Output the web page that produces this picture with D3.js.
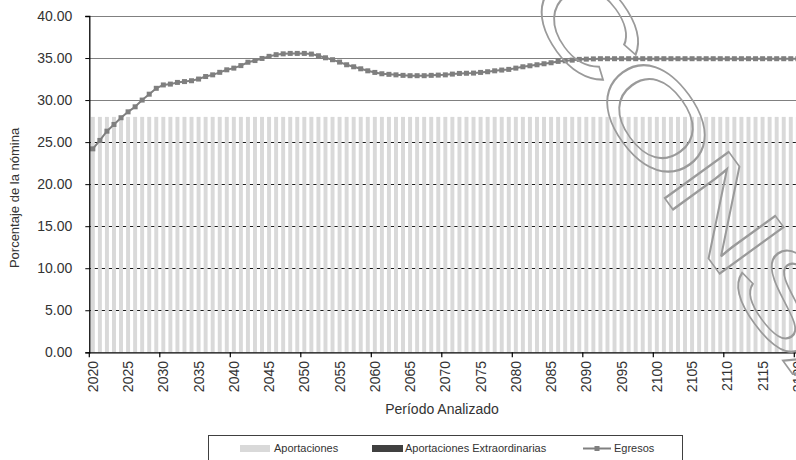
<!DOCTYPE html>
<html>
<head>
<meta charset="utf-8">
<script src="https://cdn.jsdelivr.net/npm/d3@7"></script>
<style>
  html, body { margin: 0; padding: 0; background: #fff; }
  svg { display: block; font-family: "Liberation Sans", Arial, sans-serif; }
</style>
</head>
<body>
<svg id="chart" width="796" height="460"></svg>
<script>
// ---- data ----
const years = [
  2020,2021,2022,2023,2024,2025,2026,2027,2028,2029,
  2030,2031,2032,2033,2034,2035,2036,2037,2038,2039,
  2040,2041,2042,2043,2044,2045,2046,2047,2048,2049,
  2050,2051,2052,2053,2054,2055,2056,2057,2058,2059,
  2060,2061,2062,2063,2064,2065,2066,2067,2068,2069,
  2070,2071,2072,2073,2074,2075,2076,2077,2078,2079,
  2080,2081,2082,2083,2084,2085,2086,2087,2088,2089,
  2090,2091,2092,2093,2094,2095,2096,2097,2098,2099,
  2100,2101,2102,2103,2104,2105,2106,2107,2108,2109,
  2110,2111,2112,2113,2114,2115,2116,2117,2118,2119,
  2120
];
const aportaciones = [
  28,28,28,28,28,28,28,28,28,28,
  28,28,28,28,28,28,28,28,28,28,
  28,28,28,28,28,28,28,28,28,28,
  28,28,28,28,28,28,28,28,28,28,
  28,28,28,28,28,28,28,28,28,28,
  28,28,28,28,28,28,28,28,28,28,
  28,28,28,28,28,28,28,28,28,28,
  28,28,28,28,28,28,28,28,28,28,
  28,28,28,28,28,28,28,28,28,28,
  28,28,28,28,28,28,28,28,28,28,
  28
];
const egresos = [
  24.2,25.2,26.3,27.1,27.9,28.6,29.2,30.0,30.7,31.4,
  31.8,31.9,32.1,32.2,32.3,32.5,32.8,33.0,33.3,33.6,
  33.8,34.1,34.5,34.7,34.95,35.2,35.4,35.5,35.55,35.55,
  35.55,35.47,35.27,35.03,34.8,34.52,34.2,33.96,33.72,33.48,
  33.29,33.13,33.06,33.0,32.94,32.9,32.9,32.9,32.94,32.97,
  33.0,33.09,33.17,33.19,33.21,33.29,33.37,33.48,33.57,33.65,
  33.8,33.96,34.08,34.2,34.32,34.44,34.6,34.67,34.75,34.84,
  34.87,34.9,34.92,34.92,34.92,34.92,34.92,34.92,34.92,34.92,
  34.92,34.92,34.92,34.92,34.92,34.92,34.92,34.92,34.92,34.92,
  34.92,34.92,34.92,34.92,34.92,34.92,34.92,34.92,34.92,34.92,
  34.92
];
const yTicks = [0, 5, 10, 15, 20, 25, 30, 35, 40];
const xLabelYears = [2020,2025,2030,2035,2040,2045,2050,2055,2060,2065,2070,2075,2080,2085,2090,2095,2100,2105,2110,2115,2120];
const xTickYears = [2020,2030,2040,2050,2060,2070,2080,2090,2100,2110,2120];
const legendLabels = ["Aportaciones", "Aportaciones Extraordinarias", "Egresos"];
const yTitle = "Porcentaje de la nómina";
const xTitle = "Período Analizado";
const watermark = "CONSAR";

// ---- layout ----
const mLeft = 89.3, mTop = 16, mBottom = 352.3;
const step = 7.05;
const mRight = mLeft + step * years.length;

const svg = d3.select("#chart");
const x = d3.scaleBand().domain(years).range([mLeft, mRight]).padding(0);
const y = d3.scaleLinear().domain([0, 40]).range([mBottom, mTop]);
const bw = x.bandwidth();

// gridlines
svg.append("g").selectAll("line").data(yTicks.filter(d => d > 0)).join("line")
  .attr("x1", mLeft).attr("x2", mRight)
  .attr("y1", d => Math.round(y(d)) + 0.5).attr("y2", d => Math.round(y(d)) + 0.5)
  .attr("stroke", d => d < d3.max(aportaciones) ? "#1a1a1a" : "#808080")
  .attr("stroke-width", 1);

// bars
svg.append("g").selectAll("rect").data(years).join("rect")
  .attr("x", (d) => x(d) + bw * 0.22)
  .attr("width", bw * 0.56)
  .attr("y", (d, i) => y(aportaciones[i]))
  .attr("height", (d, i) => y(0) - y(aportaciones[i]))
  .attr("fill", "#d9d9d9");

// line
const line = d3.line()
  .x((d, i) => x(years[i]) + bw / 2)
  .y(d => y(d));
svg.append("path").datum(egresos)
  .attr("d", line)
  .attr("fill", "none")
  .attr("stroke", "#808080")
  .attr("stroke-width", 2);
svg.append("g").selectAll("rect").data(egresos).join("rect")
  .attr("x", (d, i) => x(years[i]) + bw / 2 - 2.5)
  .attr("y", d => y(d) - 2.5)
  .attr("width", 5).attr("height", 5)
  .attr("fill", "#7f7f7f");

// y axis
const yAxis = d3.axisLeft(y).tickValues(yTicks).tickFormat(d3.format(".2f")).tickSize(4).tickPadding(13);
const gy = svg.append("g").attr("transform", `translate(${mLeft},0)`).call(yAxis);
gy.select(".domain").attr("stroke", "#000").attr("stroke-width", 1.3);
gy.selectAll(".tick line").attr("stroke", "#000");
gy.selectAll("text").attr("font-size", 14).attr("fill", "#333")
  .attr("font-family", "'Liberation Sans', Arial, sans-serif");

// x axis (labels at category centres, tick marks at category boundaries)
const xAxis = d3.axisBottom(x).tickValues(xLabelYears).tickSize(0).tickSizeOuter(0);
const gx = svg.append("g").attr("transform", `translate(0,${mBottom})`).call(xAxis);
gx.select(".domain").attr("stroke", "#000").attr("stroke-width", 1.3);
gx.selectAll("text")
  .attr("transform", "rotate(-90)")
  .attr("text-anchor", "end")
  .attr("x", -8.7).attr("y", 0).attr("dy", "0.36em")
  .attr("font-size", 14).attr("fill", "#333")
  .attr("font-family", "'Liberation Sans', Arial, sans-serif");
gx.append("g").selectAll("line").data(xTickYears).join("line")
  .attr("x1", d => x(d)).attr("x2", d => x(d))
  .attr("y1", 0).attr("y2", 5)
  .attr("stroke", "#000").attr("stroke-width", 1.2);

// titles
svg.append("text")
  .attr("transform", `translate(19,198) rotate(-90)`)
  .attr("text-anchor", "middle")
  .attr("font-size", 13).attr("fill", "#333")
  .text(yTitle);
svg.append("text")
  .attr("x", 442).attr("y", 414)
  .attr("text-anchor", "middle")
  .attr("font-size", 14).attr("fill", "#333")
  .text(xTitle);

// legend
const lg = svg.append("g");
lg.append("rect").attr("x", 208.5).attr("y", 435.5).attr("width", 474).attr("height", 40)
  .attr("fill", "#fff").attr("stroke", "#404040").attr("stroke-width", 1);
lg.append("rect").attr("x", 240).attr("y", 445).attr("width", 30).attr("height", 7).attr("fill", "#d9d9d9");
lg.append("text").attr("x", 274).attr("y", 452).attr("font-size", 11).attr("fill", "#333").text(legendLabels[0]);
lg.append("rect").attr("x", 372).attr("y", 445).attr("width", 31).attr("height", 7).attr("fill", "#404040");
lg.append("text").attr("x", 405).attr("y", 452).attr("font-size", 11).attr("fill", "#333").text(legendLabels[1]);
lg.append("line").attr("x1", 583).attr("x2", 611).attr("y1", 448.5).attr("y2", 448.5)
  .attr("stroke", "#808080").attr("stroke-width", 2);
lg.append("rect").attr("x", 594.5).attr("y", 446).attr("width", 5).attr("height", 5).attr("fill", "#7f7f7f");
lg.append("text").attr("x", 614).attr("y", 452).attr("font-size", 11).attr("fill", "#333").text(legendLabels[2]);

// watermark (outlined, stretched, rotated)
svg.append("text")
  .attr("transform", "translate(520,-1) rotate(54) scale(1.45,1)")
  .attr("font-size", 115)
  .attr("letter-spacing", -6)
  .attr("fill", "none")
  .attr("stroke", "#9a9a9a")
  .attr("stroke-width", 2)
  .attr("vector-effect", "non-scaling-stroke")
  .text(watermark);
</script>
</body>
</html>
